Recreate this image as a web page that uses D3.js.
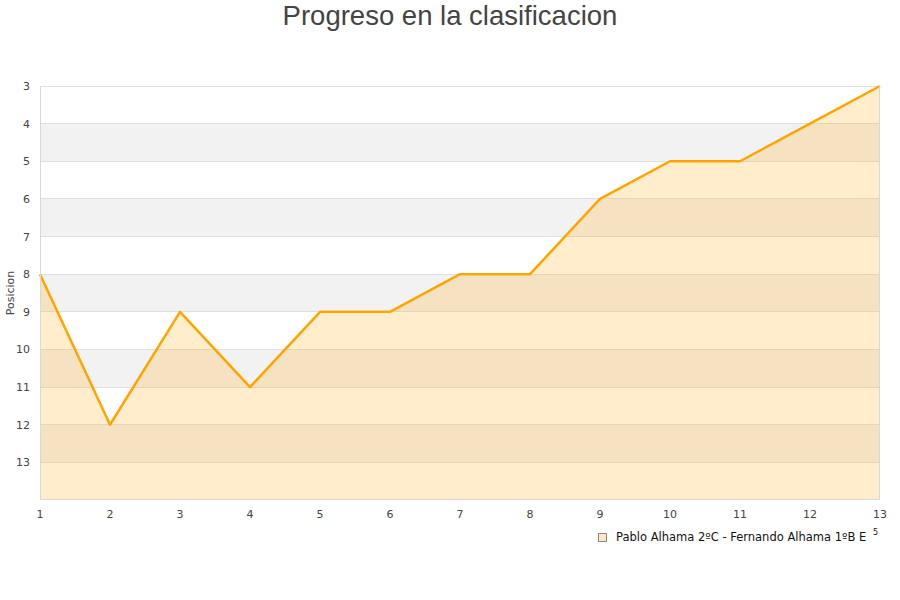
<!DOCTYPE html>
<html><head><meta charset="utf-8">
<script src="https://cdn.jsdelivr.net/npm/d3@7/dist/d3.min.js"></script>
<style>body{margin:0;background:#fff}svg{display:block}</style>
</head><body>
<svg id="c" width="900" height="600"></svg>
<script>
const jornadas = [1,2,3,4,5,6,7,8,9,10,11,12,13];
const posiciones = [8,12,9,11,9,9,8,8,6,5,5,4,3];
const yTicks = [3,4,5,6,7,8,9,10,11,12,13];
const title = "Progreso en la clasificacion";
const yLabel = "Posicion";
const seriesName = "Pablo Alhama 2ºC - Fernando Alhama 1ºB E";

const svg = d3.select("#c");
const L=40, R=880, T=86, B=500;
const x = d3.scaleLinear().domain([1,13]).range([L,R]);
const y = d3.scaleLinear().domain([3,14]).range([T,B]);

const bands = [4,6,8,10,12];
svg.selectAll("rect.band").data(bands).enter().append("rect")
  .attr("x",L).attr("width",R-L).attr("y",d=>y(d)).attr("height",d=>y(d+1)-y(d))
  .attr("fill","#f2f2f2");
svg.selectAll("line.grid").data(yTicks).enter().append("line")
  .attr("x1",L).attr("x2",R).attr("y1",d=>y(d)).attr("y2",d=>y(d))
  .attr("stroke","#e0e0e0").attr("stroke-width",1).attr("shape-rendering","crispEdges");

const data = jornadas.map((j,i)=>({j, p:posiciones[i]}));
svg.append("path").datum(data)
  .attr("d", d3.area().x(d=>x(d.j)).y0(B).y1(d=>y(d.p)))
  .attr("fill","rgba(255,165,0,0.2)");
svg.append("path").datum(data)
  .attr("d", d3.line().x(d=>x(d.j)).y(d=>y(d.p)))
  .attr("fill","none").attr("stroke","#FFA500").attr("stroke-width",2.5).attr("stroke-linejoin","round");

svg.append("line").attr("x1",L+0.5).attr("x2",L+0.5).attr("y1",T).attr("y2",B).attr("stroke","#d8d8d8");
svg.append("line").attr("x1",R-0.5).attr("x2",R-0.5).attr("y1",T).attr("y2",B).attr("stroke","#d8d8d8");
svg.append("line").attr("x1",L).attr("x2",R).attr("y1",B-0.5).attr("y2",B-0.5).attr("stroke","#d8d8d8");

svg.selectAll("text.yt").data(yTicks).enter().append("text")
  .attr("x",30).attr("y",d=>y(d)+4).attr("text-anchor","end")
  .attr("font-family","DejaVu Sans").attr("font-size",11).attr("fill","#444").text(d=>d);
svg.selectAll("text.xt").data(jornadas).enter().append("text")
  .attr("x",d=>x(d)).attr("y",518).attr("text-anchor","middle")
  .attr("font-family","DejaVu Sans").attr("font-size",11).attr("fill","#444").text(d=>d);

svg.append("text").attr("transform","translate(14,293) rotate(-90)").attr("text-anchor","middle")
  .attr("font-family","DejaVu Sans").attr("font-size",11).attr("fill","#444").text(yLabel);

svg.append("text").attr("x",450).attr("y",25).attr("text-anchor","middle")
  .attr("font-family","Liberation Sans, Arial").attr("font-size",27.5).attr("fill","#444").text(title);

svg.append("rect").attr("x",598.5).attr("y",533.5).attr("width",8).attr("height",8)
  .attr("fill","#FFE8C0").attr("stroke","#888");
svg.append("text").attr("x",616).attr("y",541)
  .attr("font-family","DejaVu Sans").attr("font-size",11.5).attr("fill","#111").text(seriesName);
svg.append("text").attr("x",873).attr("y",535)
  .attr("font-family","DejaVu Sans").attr("font-size",8).attr("fill","#111").text("5");
</script>
</body></html>
